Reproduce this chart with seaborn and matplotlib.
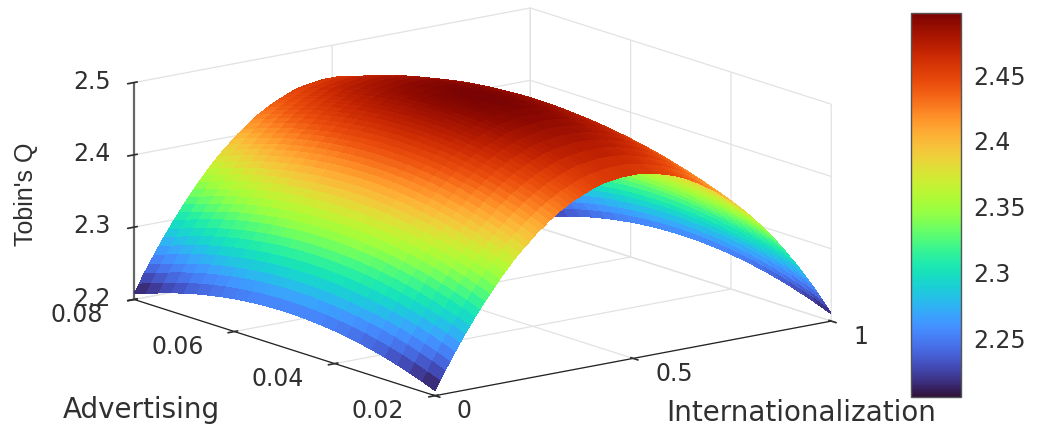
import numpy as np
import matplotlib
matplotlib.use('Agg')
import matplotlib.pyplot as plt
import seaborn as sns

# Values
internationalization = [0, 0.0125, 0.025, 0.0375, 0.05, 0.0625, 0.075, 0.0875, 0.1, 0.1125, 0.125, 0.1375, 0.15, 0.1625,
                        0.175, 0.1875, 0.2, 0.2125, 0.225, 0.2375, 0.25, 0.2625, 0.275, 0.2875, 0.3, 0.3125, 0.325,
                        0.3375, 0.35, 0.3625, 0.375, 0.3875, 0.4, 0.4125, 0.425, 0.4375, 0.45, 0.4625, 0.475, 0.4875,
                        0.5, 0.5125, 0.525, 0.5375, 0.55, 0.5625, 0.575, 0.5875, 0.6, 0.6125, 0.625, 0.6375, 0.65,
                        0.6625, 0.675, 0.6875, 0.7, 0.7125, 0.725, 0.7375, 0.75, 0.7625, 0.775, 0.7875, 0.8, 0.8125,
                        0.825, 0.8375, 0.85, 0.8625, 0.875, 0.8875, 0.9, 0.9125, 0.925, 0.9375, 0.95, 0.9625, 0.975,
                        0.9875, 1]
advertising = [0.02, 0.0225, 0.025, 0.0275, 0.03, 0.0325, 0.035, 0.0375, 0.04, 0.0425, 0.045, 0.0475, 0.05,
               0.0525, 0.055, 0.0575, 0.06, 0.0625, 0.065, 0.0675, 0.07, 0.0725, 0.075, 0.0775, 0.08]

# Height along the ridge (advertising = 0.05), one value per internationalization step
q_ridge = [2.250, 2.262, 2.275, 2.286, 2.298, 2.309, 2.320, 2.330, 2.341, 2.350, 2.360, 2.369, 2.378, 2.387,
           2.395, 2.403, 2.411, 2.418, 2.425, 2.431, 2.438, 2.444, 2.449, 2.455, 2.460, 2.465, 2.469,
           2.473, 2.477, 2.480, 2.483, 2.486, 2.489, 2.491, 2.493, 2.494, 2.495, 2.496, 2.497, 2.497,
           2.497, 2.497, 2.496, 2.495, 2.494, 2.492, 2.490, 2.488, 2.486, 2.483, 2.480, 2.477, 2.473,
           2.469, 2.465, 2.460, 2.456, 2.451, 2.445, 2.440, 2.434, 2.427, 2.421, 2.414, 2.407, 2.399,
           2.392, 2.384, 2.375, 2.367, 2.358, 2.349, 2.339, 2.330, 2.320, 2.309, 2.299, 2.288, 2.276,
           2.265, 2.253]
# Drop below the ridge, one value per advertising step
q_drop = [0.043, 0.0361, 0.0299, 0.0242, 0.0191, 0.0146, 0.0108, 0.0075, 0.0048, 0.0027, 0.0012, 0.0003, 0,
          0.0003, 0.0012, 0.0027, 0.0048, 0.0075, 0.0108, 0.0146, 0.0191, 0.0242, 0.0299, 0.0361, 0.042]

x_ticks = [0, 0.5, 1]
x_tick_labels = ['0', '0.5', '1']
y_ticks = [0.02, 0.04, 0.06, 0.08]
y_tick_labels = ['0.02', '0.04', '0.06', '0.08']
z_ticks = [2.2, 2.3, 2.4, 2.5]
z_tick_labels = ['2.2', '2.3', '2.4', '2.5']
cbar_ticks = [2.25, 2.3, 2.35, 2.4, 2.45]
cbar_tick_labels = ['2.25', '2.3', '2.35', '2.4', '2.45']

W, H = 1039, 425
text_color = '#303030'

sns.set_theme(style='white', rc={'grid.color': '#e2e2e2', 'grid.linewidth': 0.9, 'axes3d.grid': True})
plt.rcParams['font.family'] = ['DejaVu Sans']

fig = plt.figure(figsize=(W / 100, H / 100), dpi=100)

# Square 3D axes, centred on the middle of the box
side = 716
cx, cy = 473, 211.5
ax = fig.add_axes([(cx - side / 2) / W, (H - cy - side / 2) / H, side / W, side / H],
                  projection='3d', proj_type='ortho')
ax.patch.set_alpha(0)
ax.view_init(elev=14.2, azim=-127.5)
ax.set_box_aspect((500, 495, 224))

X, Y = np.meshgrid(internationalization, advertising)
Z = np.subtract.outer(q_ridge, q_drop).T

cmap = sns.color_palette('turbo', as_cmap=True)
surf = ax.plot_surface(X, Y, Z, cmap=cmap, vmin=2.206, vmax=2.497, rstride=1, cstride=1,
                       shade=False, linewidth=0, antialiased=False)

ax.set_xlim(0, 1, view_margin=0)
ax.set_ylim(0.02, 0.08, view_margin=0)
ax.set_zlim(2.2, 2.5, view_margin=0)

ax.set_xticks(x_ticks, x_tick_labels)
ax.set_yticks(y_ticks, y_tick_labels)
ax.set_zticks(z_ticks, z_tick_labels)
ax.tick_params(axis='both', labelsize=17, labelcolor=text_color, colors=text_color)
ax.tick_params(axis='x', pad=11.5)
ax.tick_params(axis='y', pad=13)
ax.tick_params(axis='z', pad=1)
for t in ax.get_xticklabels():
    t.set_ha('left')
    t.set_va('baseline')
for t in ax.get_yticklabels():
    t.set_ha('right')
    t.set_va('baseline')
for t in ax.get_zticklabels():
    t.set_ha('right')
    t.set_va('center')

for axis in [ax.xaxis, ax.yaxis, ax.zaxis]:
    axis.set_pane_color((1, 1, 1, 0))
    axis.pane.set_edgecolor('#d4d4d4')
    axis.line.set_color('#222222')
    axis.line.set_linewidth(0.9)
ax.zaxis.line.set_color('#666666')
ax.zaxis.line.set_linewidth(1.6)

# Colorbar
cax = fig.add_axes([911 / W, (H - 397) / H, 50 / W, 384 / H])
cbar = fig.colorbar(surf, cax=cax)
cbar.set_ticks(cbar_ticks, labels=cbar_tick_labels)
cax.tick_params(axis='y', right=True, direction='in', length=6, width=0.9, labelsize=17,
                labelcolor=text_color, color='#333333', pad=9)
cbar.outline.set_edgecolor('#555555')
cbar.outline.set_linewidth(1.0)

# Axis titles
fig.text(141 / W, 1 - 410 / H, 'Advertising', fontsize=20, ha='center', va='center', color=text_color)
fig.text(801 / W, 1 - 413 / H, 'Internationalization', fontsize=20, ha='center', va='center', color=text_color)
fig.text(26 / W, 1 - 194 / H, "Tobin's Q", fontsize=18, ha='center', va='center', rotation=90,
         color=text_color, family='Liberation Sans')

fig.savefig('out.png', dpi=100)
